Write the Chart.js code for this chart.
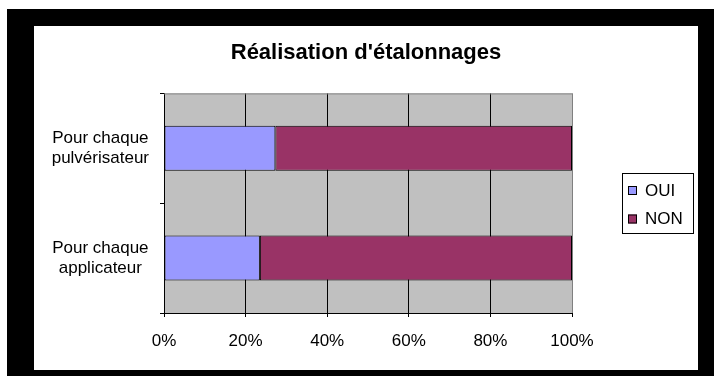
<!doctype html>
<html lang="fr">
<head>
<meta charset="utf-8">
<title>Réalisation d'étalonnages</title>
<script src="https://cdn.jsdelivr.net/npm/chart.js@4/dist/chart.umd.min.js"></script>
<style>
  html, body { margin: 0; padding: 0; background: #fff; }
  #cadre { position: absolute; left: 7px; top: 9px; width: 707px; height: 367px; background: #000; }
  #fond { position: absolute; left: 27px; top: 17px; width: 664px; height: 344px; background: #fff; }
  canvas { display: block; }
</style>
</head>
<body>
<div id="cadre">
  <div id="fond">
    <canvas id="graphe" width="664" height="344"></canvas>
  </div>
</div>

<script>
// donnees (en %)
var categories = [['Pour chaque', 'pulvérisateur'], ['Pour chaque', 'applicateur']];
var series = ['OUI', 'NON'];
var oui = [27.3, 23.5];
var non = [72.7, 76.5];
var couleurs = ['#9999FF', '#993366'];
var ticksX = [0, 20, 40, 60, 80, 100];

var police = 'Arial, "Liberation Sans", sans-serif';

// fond gris de la zone de trace + bord gris haut/droite
const fondZone = {
  id: 'fondZone',
  beforeDraw(chart) {
    const a = chart.chartArea, c = chart.ctx;
    c.save();
    c.fillStyle = '#C0C0C0';
    c.fillRect(a.left, a.top, a.right - a.left, a.bottom - a.top);
    c.restore();
  },
  afterDatasetsDraw(chart) {
    const a = chart.chartArea, c = chart.ctx;
    c.save();
    c.strokeStyle = '#808080';
    c.lineWidth = 1;
    c.beginPath();
    c.moveTo(a.left, a.top + 0.5);
    c.lineTo(a.right + 0.5, a.top + 0.5);
    c.lineTo(a.right + 0.5, a.bottom);
    c.stroke();
    c.restore();
  }
};

// legende encadree a droite
const legende = {
  id: 'legende',
  afterDraw(chart) {
    const c = chart.ctx;
    c.save();
    c.fillStyle = '#fff';
    c.fillRect(588, 147, 71, 60);
    c.strokeStyle = '#000';
    c.lineWidth = 1;
    c.strokeRect(588.5, 147.5, 71, 60);
    c.font = '17px ' + police;
    c.textBaseline = 'middle';
    chart.data.datasets.forEach(function(ds, i) {
      var y = 164 + i * 28.5;
      c.fillStyle = ds.backgroundColor;
      c.fillRect(594, y - 4, 9, 9);
      c.strokeRect(594.5, y - 3.5, 8, 8);
      c.fillStyle = '#000';
      c.fillText(ds.label, 611, y + 1);
    });
    c.restore();
  }
};

var ctx = document.getElementById('graphe').getContext('2d');
var graphe = new Chart(ctx, {
  type: 'bar',
  data: {
    labels: categories,
    datasets: [
      { label: series[0], data: oui, backgroundColor: couleurs[0] },
      { label: series[1], data: non, backgroundColor: couleurs[1] }
    ]
  },
  plugins: [fondZone, legende],
  options: {
    indexAxis: 'y',
    responsive: false,
    animation: false,
    layout: { padding: 0 },
    datasets: {
      bar: {
        borderColor: '#000',
        borderWidth: 1,
        borderSkipped: false,
        barPercentage: 0.41,
        categoryPercentage: 1
      }
    },
    scales: {
      x: {
        stacked: true,
        min: 0,
        max: 100,
        afterBuildTicks: function(s) { s.ticks = ticksX.map(function(v) { return { value: v }; }); },
        afterFit: function(s) { s.height = 57; },
        ticks: {
          color: '#000',
          padding: 14,
          font: { size: 17, family: police },
          callback: function(v) { return v + '%'; }
        },
        grid: {
          color: function(c) { return c.tick && c.tick.value === 100 ? '#808080' : '#000'; },
          tickColor: '#000',
          tickLength: 4,
          lineWidth: 1
        },
        border: { display: true, color: '#000' }
      },
      y: {
        stacked: true,
        afterFit: function(s) { s.width = 130; },
        ticks: {
          color: '#000',
          padding: 11,
          crossAlign: 'center',
          font: { size: 17, family: police, lineHeight: 1.2 }
        },
        grid: {
          offset: true,
          drawOnChartArea: false,
          color: '#000',
          tickLength: 4
        },
        border: { display: true, color: '#000' }
      },
      // axe vide a droite : reserve la place de la legende
      marge: {
        type: 'category',
        position: 'right',
        afterFit: function(s) { s.width = 126; },
        ticks: { display: false },
        grid: { display: false, drawTicks: false },
        border: { display: false }
      }
    },
    plugins: {
      legend: { display: false },
      tooltip: { enabled: false },
      title: {
        display: true,
        text: "Réalisation d'étalonnages",
        color: '#000',
        font: { size: 22, weight: 'bold', family: police },
        padding: { top: 14, bottom: 27 }
      }
    }
  }
});
</script>
</body>
</html>
